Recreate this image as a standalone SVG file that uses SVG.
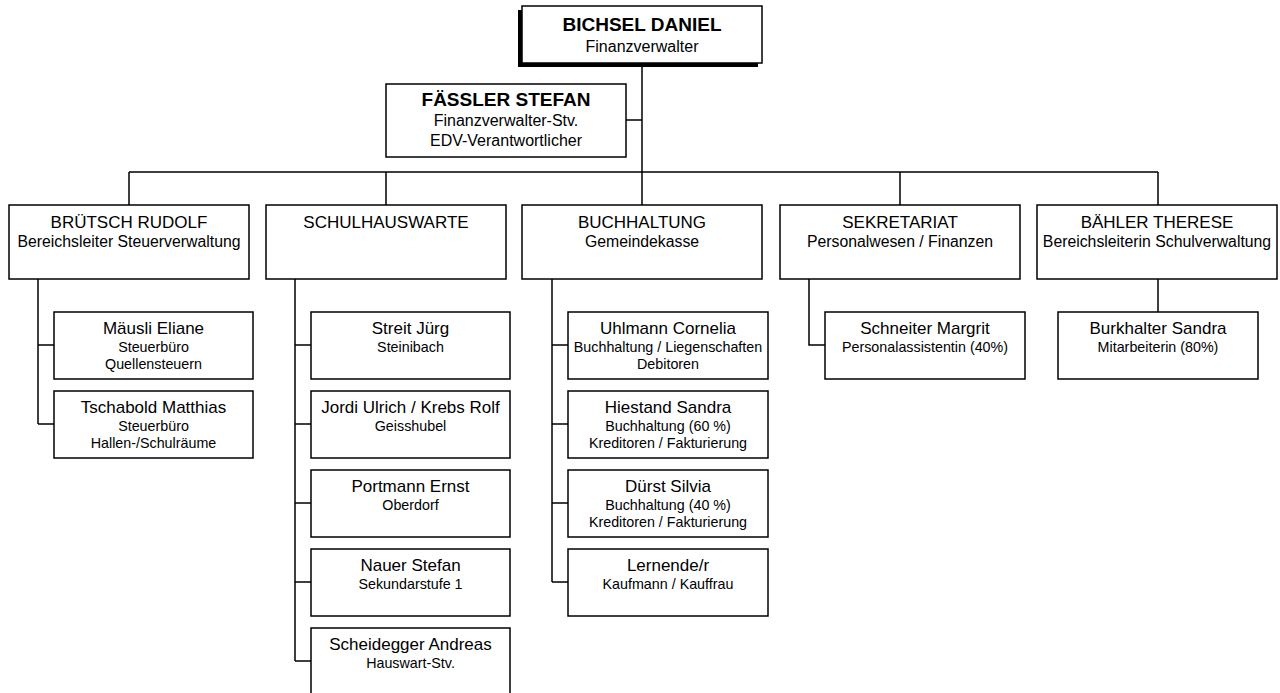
<svg xmlns="http://www.w3.org/2000/svg" width="1280" height="693" viewBox="0 0 1280 693">
<style>
text{font-family:"Liberation Sans",Arial,sans-serif;fill:#000;text-anchor:middle}
.box{fill:#fff;stroke:#000;stroke-width:1.5}
.shadow{fill:#000}
.b{font-weight:bold;font-size:19px}
.s{font-size:16px}
.h{font-size:17px}
.hs{font-size:15.8px}
.n{font-size:17px}
.d{font-size:14.3px}
#connectors path{fill:none;stroke:#000;stroke-width:1.5}
</style>
<rect width="1280" height="693" fill="#fff"/>
<g id="connectors">
<path d="M642 63V205M626 120H642M129 172H1158M129 172V205M386 172V205M900 172V205M1158 172V205"/>
<path d="M38 279V424M38 345H54M38 424H54"/>
<path d="M295 279V661M295 345H311M295 424H311M295 503H311M295 582H311M295 661H311"/>
<path d="M552 279V582M552 345H568M552 424H568M552 503H568M552 582H568"/>
<path d="M809 279V345H825"/>
<path d="M1158 279V312"/>
</g>
<g id="bichsel">
<rect class="shadow" x="518" y="10" width="240" height="57"/>
<rect class="box" x="522" y="6" width="240" height="57"/>
<text class="b" x="642" y="31">BICHSEL DANIEL</text>
<text class="s" x="642" y="52">Finanzverwalter</text>
</g>
<g id="faessler">
<rect class="box" x="386" y="84" width="240" height="73"/>
<text class="b" x="506" y="106">FÄSSLER STEFAN</text>
<text class="s" x="506" y="126">Finanzverwalter-Stv.</text>
<text class="s" x="506" y="146">EDV-Verantwortlicher</text>
</g>
<g id="bruetsch">
<rect class="box" x="9" y="205" width="240" height="74"/>
<text class="h" x="129" y="228">BRÜTSCH RUDOLF</text>
<text class="hs" x="129" y="247">Bereichsleiter Steuerverwaltung</text>
</g>
<g id="schulhauswarte">
<rect class="box" x="266" y="205" width="240" height="74"/>
<text class="h" x="386" y="228">SCHULHAUSWARTE</text>
</g>
<g id="buchhaltung">
<rect class="box" x="522" y="205" width="240" height="74"/>
<text class="h" x="642" y="228">BUCHHALTUNG</text>
<text class="hs" x="642" y="247">Gemeindekasse</text>
</g>
<g id="sekretariat">
<rect class="box" x="780" y="205" width="240" height="74"/>
<text class="h" x="900" y="228">SEKRETARIAT</text>
<text class="hs" x="900" y="247">Personalwesen / Finanzen</text>
</g>
<g id="baehler">
<rect class="box" x="1037" y="205" width="240" height="74"/>
<text class="h" x="1157" y="228">BÄHLER THERESE</text>
<text class="hs" x="1157" y="247">Bereichsleiterin Schulverwaltung</text>
</g>
<g id="maeusli">
<rect class="box" x="54" y="312" width="199" height="67"/>
<text class="n" x="153.5" y="334">Mäusli Eliane</text>
<text class="d" x="153.5" y="352">Steuerbüro</text>
<text class="d" x="153.5" y="369">Quellensteuern</text>
</g>
<g id="tschabold">
<rect class="box" x="54" y="391" width="199" height="67"/>
<text class="n" x="153.5" y="413">Tschabold Matthias</text>
<text class="d" x="153.5" y="431">Steuerbüro</text>
<text class="d" x="153.5" y="448">Hallen-/Schulräume</text>
</g>
<g id="streit">
<rect class="box" x="311" y="312" width="199" height="67"/>
<text class="n" x="410.5" y="334">Streit Jürg</text>
<text class="d" x="410.5" y="352">Steinibach</text>
</g>
<g id="jordi">
<rect class="box" x="311" y="391" width="199" height="67"/>
<text class="n" x="410.5" y="413">Jordi Ulrich / Krebs Rolf</text>
<text class="d" x="410.5" y="431">Geisshubel</text>
</g>
<g id="portmann">
<rect class="box" x="311" y="470" width="199" height="67"/>
<text class="n" x="410.5" y="492">Portmann Ernst</text>
<text class="d" x="410.5" y="510">Oberdorf</text>
</g>
<g id="nauer">
<rect class="box" x="311" y="549" width="199" height="67"/>
<text class="n" x="410.5" y="571">Nauer Stefan</text>
<text class="d" x="410.5" y="589">Sekundarstufe 1</text>
</g>
<g id="scheidegger">
<rect class="box" x="311" y="628" width="199" height="67"/>
<text class="n" x="410.5" y="650">Scheidegger Andreas</text>
<text class="d" x="410.5" y="668">Hauswart-Stv.</text>
</g>
<g id="uhlmann">
<rect class="box" x="568" y="312" width="200" height="67"/>
<text class="n" x="668" y="334">Uhlmann Cornelia</text>
<text class="d" x="668" y="352">Buchhaltung / Liegenschaften</text>
<text class="d" x="668" y="369">Debitoren</text>
</g>
<g id="hiestand">
<rect class="box" x="568" y="391" width="200" height="67"/>
<text class="n" x="668" y="413">Hiestand Sandra</text>
<text class="d" x="668" y="431">Buchhaltung (60 %)</text>
<text class="d" x="668" y="448">Kreditoren / Fakturierung</text>
</g>
<g id="duerst">
<rect class="box" x="568" y="470" width="200" height="67"/>
<text class="n" x="668" y="492">Dürst Silvia</text>
<text class="d" x="668" y="510">Buchhaltung (40 %)</text>
<text class="d" x="668" y="527">Kreditoren / Fakturierung</text>
</g>
<g id="lernende">
<rect class="box" x="568" y="549" width="200" height="67"/>
<text class="n" x="668" y="571">Lernende/r</text>
<text class="d" x="668" y="589">Kaufmann / Kauffrau</text>
</g>
<g id="schneiter">
<rect class="box" x="825" y="312" width="200" height="67"/>
<text class="n" x="925" y="334">Schneiter Margrit</text>
<text class="d" x="925" y="352">Personalassistentin (40%)</text>
</g>
<g id="burkhalter">
<rect class="box" x="1058" y="312" width="200" height="67"/>
<text class="n" x="1158" y="334">Burkhalter Sandra</text>
<text class="d" x="1158" y="352">Mitarbeiterin (80%)</text>
</g>
</svg>
